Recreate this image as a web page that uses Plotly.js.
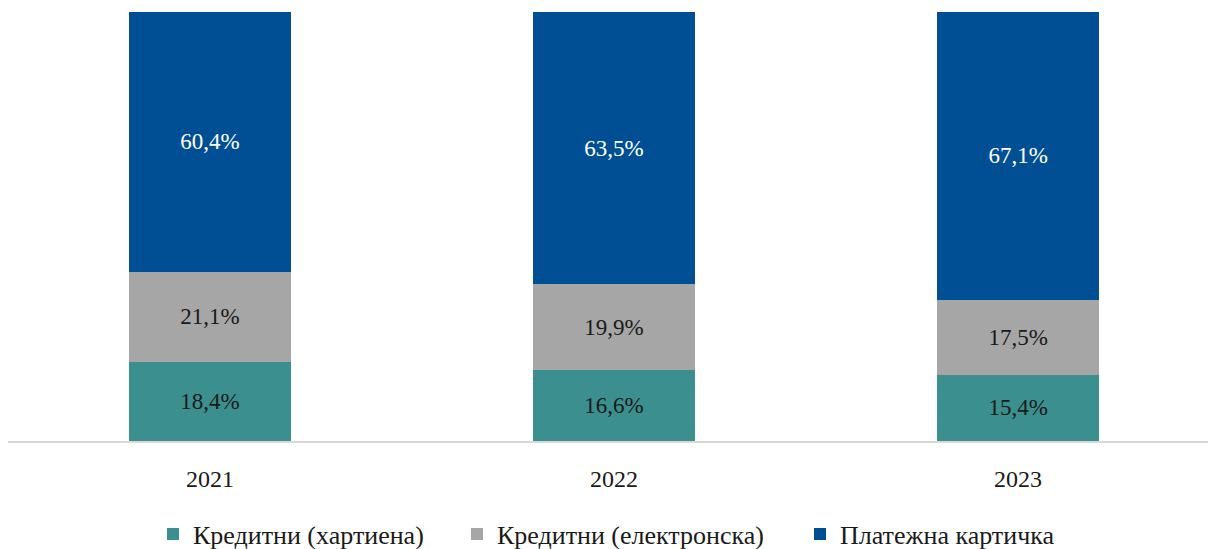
<!DOCTYPE html>
<html><head><meta charset="utf-8">
<script src="https://cdn.plot.ly/plotly-3.0.1.min.js"></script>
<style>html,body{margin:0;padding:0;background:#fff}#chart{width:1208px;height:549px}</style>
</head><body><div id="chart"></div>
<script>
const years = ['2021', '2022', '2023'];
const seriesNames = ['Кредитни (хартиена)', 'Кредитни (електронска)', 'Платежна картичка'];
const paperCredit = [18.4, 16.6, 15.4];
const electronicCredit = [21.1, 19.9, 17.5];
const paymentCard = [60.4, 63.5, 67.1];
const colors = ['#3b8f8f', '#a6a6a6', '#004f94'];
const textColors = ['#1a1a1a', '#1a1a1a', '#ffffff'];

const fmt = v => v.toFixed(1).replace('.', ',') + '%';
const FONT = '"Liberation Serif", "DejaVu Serif", serif';
const legendIds = ['legend', 'legend2', 'legend3'];
const legendLeft = [153, 457, 800];

const values = [paperCredit, electronicCredit, paymentCard];
const traces = values.map((vals, i) => ({
  type: 'bar',
  name: seriesNames[i],
  legend: legendIds[i],
  x: years,
  y: vals,
  width: 0.4,
  marker: {color: colors[i], line: {width: 0}},
  text: vals.map(fmt),
  textposition: 'inside',
  insidetextanchor: 'middle',
  textangle: 0,
  textfont: {family: FONT, size: 23, color: textColors[i]},
  hoverinfo: 'skip'
}));

const layout = {
  width: 1208, height: 549,
  margin: {l: 8, r: 0, t: 12, b: 108, autoexpand: false},
  barmode: 'stack',
  paper_bgcolor: '#fff', plot_bgcolor: '#fff',
  font: {family: FONT, size: 23, color: '#1a1a1a'},
  xaxis: {
    type: 'category',
    range: [-0.5, 2.47],
    showline: true, linecolor: '#d9d9d9', linewidth: 1.5,
    showgrid: false, zeroline: false, ticks: '',
    tickfont: {family: FONT, size: 24, color: '#1a1a1a'},
    ticklabelstandoff: 16,
    automargin: false
  },
  yaxis: {
    range: [0, 100], visible: false, showgrid: false, zeroline: false
  },
  showlegend: true
};
legendIds.forEach((id, i) => {
  layout[id] = {
    orientation: 'h', xref: 'container', x: legendLeft[i] / 1208, xanchor: 'left',
    yref: 'container', y: 15 / 549, yanchor: 'middle',
    font: {family: FONT, size: 26, color: '#1a1a1a'},
    bgcolor: 'rgba(0,0,0,0)',
    itemclick: false, itemdoubleclick: false
  };
});

Plotly.newPlot('chart', traces, layout, {staticPlot: true, displayModeBar: false});
</script></body></html>
